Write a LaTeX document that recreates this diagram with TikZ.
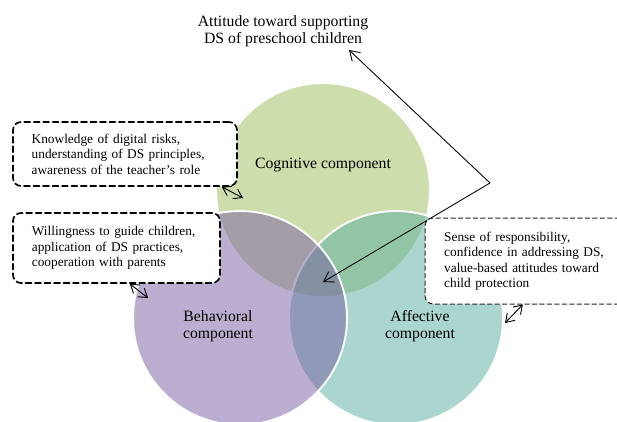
\documentclass[tikz,border=0pt]{standalone}
\usepackage{fontspec}
\setmainfont{Liberation Serif}
\usetikzlibrary{arrows.meta}
\definecolor{cogn}{RGB}{155,187,89}
\definecolor{behav}{RGB}{120,94,162}
\definecolor{affec}{RGB}{88,174,160}
\tikzset{
  venn/.style={draw=white, line width=1.4pt, fill opacity=0.5},
  lbl/.style={align=center, font=\fontsize{11.8}{12.8}\selectfont},
  infobox/.style={rectangle, rounded corners=6pt, fill=white, align=left,
    inner xsep=14pt, font=\fontsize{10}{11.6}\selectfont},
  thickdash/.style={draw=black, line width=1.25pt, dash pattern=on 4.5pt off 2.6pt},
  thindash/.style={draw=black!85, line width=0.75pt, dash pattern=on 3.4pt off 2.2pt},
  smallarr/.style={<->, >={Straight Barb[length=6pt,width=8pt]}, line width=0.7pt},
}
\begin{document}
\begin{tikzpicture}[x=0.75pt, y=-0.75pt, line join=round, line cap=round,
  >={Straight Barb[length=7pt,width=9pt]}]
\def \rad{107}
\useasboundingbox (0,0) rectangle (617,421);
\clip (0,0) rectangle (617,421);
% the three components
\foreach \c/\x/\y in {cogn/323/190, affec/396/318, behav/240/318}{\path[venn, fill=\c] (\x,\y) circle (\rad);}
\node[lbl] (cogtxt) at (323,165) {Cognitive component};
\node[lbl] (behtxt) at (218,326) {Behavioral\\component};
\node[lbl] (afftxt) at (420,326) {Affective\\component};
% title and the bent double arrow
\node[lbl, font=\fontsize{11.8}{12.4}\selectfont] (title) at (283,31) {Attitude toward supporting\\DS of preschool children};
\coordinate (titletip) at (349,50);
\coordinate (bend) at (490,183);
\coordinate (centre) at (323,282);
\draw[<->, line width=0.65pt] (titletip) -- (bend) -- (centre);
% dashed boxes
\node[infobox, thickdash, minimum width=168pt, minimum height=48pt, text width=140pt] (know) at (125,154)
  {Knowledge of digital risks,\\understanding of DS principles,\\awareness of the teacher’s role};
\node[infobox, thickdash, minimum width=155.25pt, minimum height=52.5pt, text width=127pt] (will) at (116.5,248)
  {Willingness to guide children,\\application of DS practices,\\cooperation with parents};
\node[infobox, thindash, minimum width=168.75pt, minimum height=64.5pt, text width=140pt] (sense) at (537.5,261)
  {Sense of responsibility,\\confidence in addressing DS,\\value-based attitudes toward\\child protection};
\coordinate (knowend) at (243,198);
\coordinate (willend) at (148,298);
\coordinate (senseend) at (505,323);
\draw[smallarr] ([xshift=-12pt]know.south east) -- (knowend);
\draw[smallarr] ([xshift=10pt]will.south) -- (willend);
\draw[smallarr] ([xshift=-11pt]sense.south) -- (senseend);
\end{tikzpicture}
\end{document}
